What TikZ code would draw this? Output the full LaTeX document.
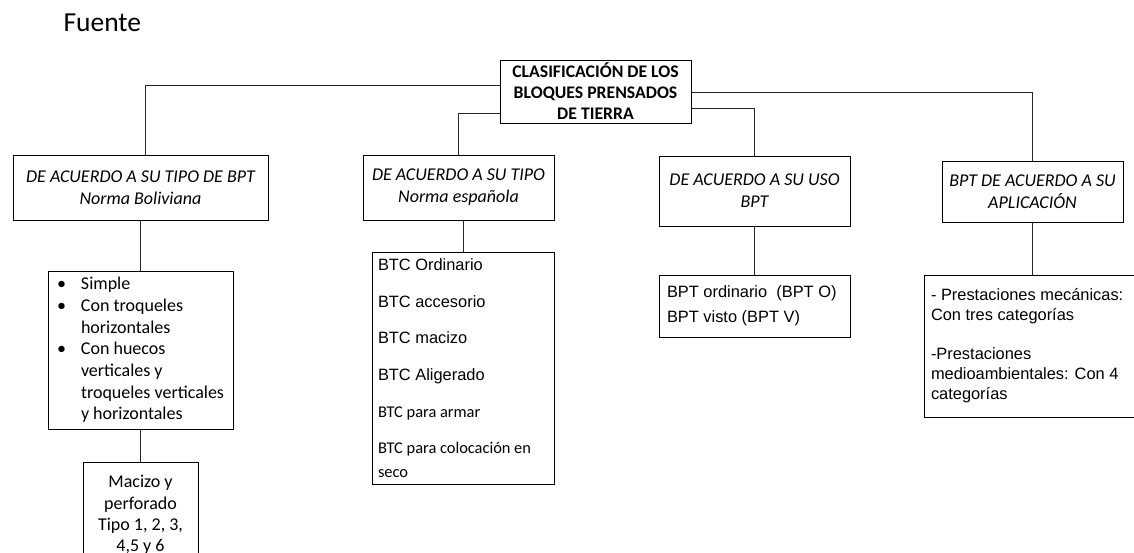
\documentclass[tikz,border=0pt]{standalone}
\usepackage{fontspec}
\setmainfont{Carlito}
\newfontfamily\arial{Liberation Sans}
\begin{document}
\begin{tikzpicture}[x=1pt,y=-1pt,
  box/.style={draw=black, line width=0.9pt, inner sep=0pt, fill=white},
  link/.style={draw=black!85, line width=0.9pt},
  headtxt/.style={font=\fontsize{18}{22}\selectfont\itshape, align=center},
  bodytxt/.style={align=flush left, text width=#1}
]
\clip (0,0) rectangle (1134,553);
\fill[white] (0,0) rectangle (1134,553);

\node[anchor=base west, font=\fontsize{27.5}{30}\selectfont] (fuente) at (60,32) {Fuente};

% root
\node[box, minimum width=191, minimum height=63, align=center,
      font=\fontsize{17.7}{21}\selectfont\bfseries] (root) at (595.5,91.5)
  {CLASIFICACIÓN DE LOS\\BLOQUES PRENSADOS\\DE TIERRA};

% first level
\node[box, headtxt, minimum width=255, minimum height=65] (b1) at (140.5,187.5)
  {DE ACUERDO A SU TIPO DE BPT\\Norma Boliviana};
\node[box, headtxt, minimum width=191, minimum height=65] (b2) at (458.5,187.5)
  {DE ACUERDO A SU TIPO\\Norma española};
\node[box, headtxt, minimum width=191, minimum height=70] (b3) at (754.5,191)
  {DE ACUERDO A SU USO\\BPT};
\node[box, headtxt, minimum width=181, minimum height=61] (b4) at (1032.5,191.5)
  {BPT DE ACUERDO A SU\\APLICACIÓN};

% bullet list
\node[box, bodytxt=185, minimum height=158, font=\fontsize{18}{21.7}\selectfont] (b1b) at (140.5,350)
  {\hspace*{9pt}\makebox[24pt][l]{•}Simple\\
   \hspace*{9pt}\makebox[24pt][l]{•}Con troqueles\\
   \hspace*{33pt}horizontales\\
   \hspace*{9pt}\makebox[24pt][l]{•}Con huecos\\
   \hspace*{33pt}verticales y\\
   \hspace*{33pt}troqueles verticales\\
   \hspace*{33pt}y horizontales};

% lowest box, running past the bottom edge
\node[box, minimum width=115, minimum height=106, align=center,
      font=\fontsize{18}{21.2}\selectfont] (b1c) at (140.5,515)
  {Macizo y\\perforado\\Tipo 1, 2, 3,\\4,5 y 6};

% second column list
\node[box, inner xsep=6pt, bodytxt=170, minimum height=232, font=\fontsize{16.4}{24}\selectfont] (b2b) at (463,368)
  {{\arial BTC Ordinario}\\[12.7pt]
   {\arial BTC accesorio}\\[12.7pt]
   {\arial BTC macizo}\\[12.7pt]
   {\arial BTC Aligerado}\\[12.7pt]
   BTC para armar\\[12pt]
   BTC para colocación en\\
   seco};

% third column list
\node[box, inner xsep=8pt, bodytxt=175, minimum height=62, font=\arial\fontsize{16.4}{25}\selectfont] (b3b) at (754.5,306)
  {BPT ordinario\ \ (BPT O)\\BPT visto (BPT V)};

% fourth column list, running past the right edge
\node[box, inner xsep=7pt, bodytxt=207, minimum height=142, font=\arial\fontsize{16.4}{20}\selectfont] (b4b) at (1034.5,346)
  {- Prestaciones mecánicas:\\Con tres categorías\\[19pt]
   -Prestaciones\\medioambientales: Con 4\\categorías};

% connectors from the root
\draw[link] ([yshift=6.5pt]root.west) -| ([xshift=4.5pt]b1.north);
\draw[link] ([yshift=-21.5pt]root.west) -| (b2.north);
\draw[link] ([yshift=-0.5pt]root.east) -| (b4.north);
\draw[link] ([yshift=-16.5pt]root.east) -| (b3.north);

% vertical links
\draw[link] (b1.south) -- (b1b.north);
\draw[link] (b1b.south) -- (b1c.north);
\draw[link] (b2b.north |- b2.south) -- (b2b.north);
\draw[link] (b3.south) -- (b3b.north);
\draw[link] (b4.south) -- (b4.south |- b4b.north);
\end{tikzpicture}
\end{document}
